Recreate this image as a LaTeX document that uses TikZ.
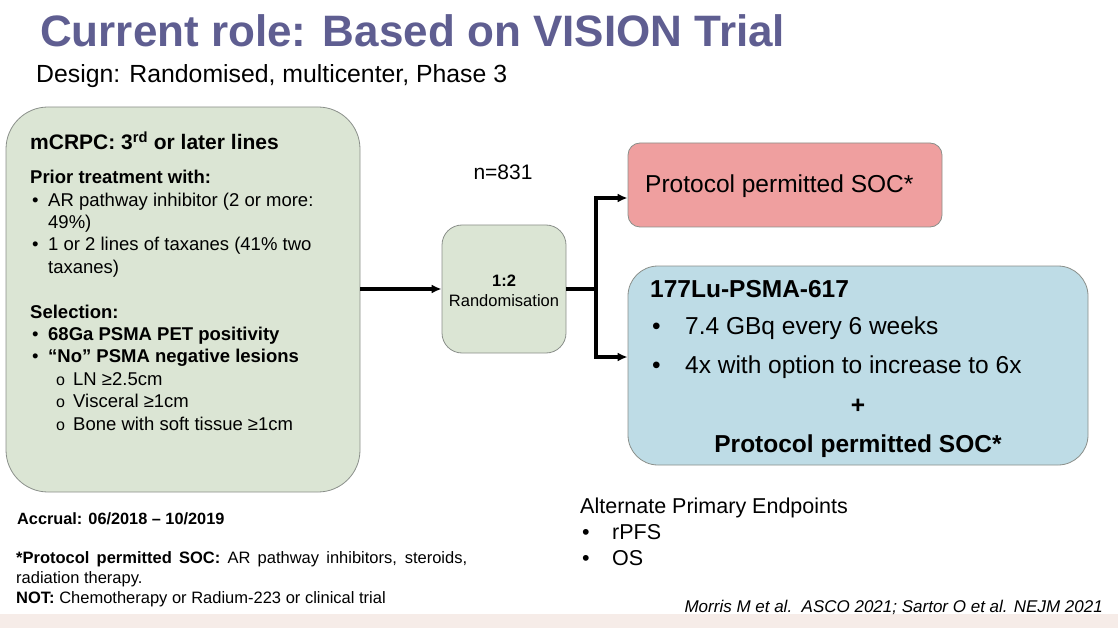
\documentclass[tikz,border=0pt]{standalone}
\usepackage{fontspec}
\setmainfont{Liberation Sans}
\usetikzlibrary{arrows.meta,positioning}
\definecolor{Heading}{HTML}{5F5E91}
\definecolor{Edge}{HTML}{8A8F8A}
\definecolor{Sage}{HTML}{DBE5D4}
\definecolor{Rose}{HTML}{EF9F9F}
\definecolor{Sky}{HTML}{BEDCE6}
\definecolor{Strip}{HTML}{F6ECE8}
\newcommand{\fs}[2]{\fontsize{#1}{#2}\selectfont}
\newcommand{\bul}{\makebox[18pt][l]{\hspace*{2pt}\textbullet}}
\newcommand{\ind}{\hspace*{18pt}}
\newcommand{\sbul}{\hspace*{26pt}\makebox[17pt][l]{\fs{16}{16}o}}
\tikzset{
  armbox/.style={draw=Edge,line width=.8pt},
  txt/.style={inner sep=0pt,text=black},
  flow/.style={-{Latex[length=10pt,width=9pt]},draw=black,line width=3.2pt},
  trunk/.style={draw=black,line width=3.2pt}
}
\begin{document}
\begin{tikzpicture}[x=1pt,y=-1pt]
  \useasboundingbox (0,0) rectangle (1118,628);
  \fill[Strip] (0,614) rectangle (1118,628);
  % heading
  \node[txt,anchor=base west,font=\fs{44}{50}\bfseries,text=Heading] (title) at (40,47) {Current role: Based on VISION Trial};
  \node[txt,anchor=base west,font=\fs{24.8}{28}] (design) at (36,83) {Design: Randomised, multicenter, Phase 3};
  % boxes
  \node[armbox,fill=Sage,minimum width=354,minimum height=385,rounded corners=42pt] (elig) at (183,299.5) {};
  \node[armbox,fill=Sage,minimum width=124,minimum height=128,rounded corners=20pt] (rand) at (504,289) {};
  \node[armbox,fill=Rose,minimum width=314,minimum height=84,rounded corners=12pt] (soc) at (785,185) {};
  \node[armbox,fill=Sky,minimum width=460,minimum height=199,rounded corners=30pt] (lu) at (858,365.5) {};
  % eligibility
  \node[txt,anchor=base west,font=\fs{21}{25}\bfseries] (mcrpc) at (30,150) {mCRPC: 3\textsuperscript{rd} or later lines};
  \node[txt,anchor=north west,align=left,font=\fs{18.5}{22.4}] (crit) at (30,170) {%
    \textbf{Prior treatment with:}\\
    \bul AR pathway inhibitor (2 or more:\\
    \ind 49\%)\\
    \bul 1 or 2 lines of taxanes (41\% two\\
    \ind taxanes)\\[22.4pt]
    \textbf{Selection:}\\
    \bul\textbf{68Ga PSMA PET positivity}\\
    \bul\textbf{“No” PSMA negative lesions}\\
    \sbul LN ≥2.5cm\\
    \sbul Visceral ≥1cm\\
    \sbul Bone with soft tissue ≥1cm};
  % randomisation
  \node[txt,anchor=base,font=\fs{21}{25}] (ncount) at (503,180) {n=831};
  \node[txt,align=center,font=\fs{16.5}{20}] (ratio) at ([yshift=-2pt]rand.center) {\textbf{1:2}\\Randomisation};
  \coordinate (fork) at (596,289);
  \draw[flow] (elig.east |- rand.west) -- (rand.west);
  \draw[trunk] (rand.east) -- (fork);
  \draw[flow] (fork) |- ([yshift=-13pt]soc.west);
  \draw[flow] (fork) |- ([yshift=8.5pt]lu.west);
  % arms
  \node[txt,anchor=base west,font=\fs{24.5}{29}] (soctxt) at (645,193) {Protocol permitted SOC*};
  \node[txt,anchor=base west,font=\fs{24.5}{29}\bfseries] (luhd) at (650,297) {177Lu-PSMA-617};
  \node[txt,anchor=base west,font=\fs{24.5}{29}] (dose) at (652,334) {\makebox[33pt][l]{\textbullet}7.4 GBq every 6 weeks};
  \node[txt,anchor=base west,font=\fs{24.5}{29}] (cycles) at (652,373) {\makebox[33pt][l]{\textbullet}4x with option to increase to 6x};
  \node[txt,font=\fs{24.5}{29}\bfseries] (plus) at (858,406) {+};
  \node[txt,anchor=base,font=\fs{24.5}{29}\bfseries] (socadd) at (858,452) {Protocol permitted SOC*};
  % notes
  \node[txt,anchor=base west,font=\fs{16.3}{20}\bfseries] (accrual) at (17,524) {Accrual: 06/2018 – 10/2019};
  \node[txt,anchor=north west,text width=451pt,align=justify,font=\fs{16.5}{20}] (foot) at (16,551) {\textbf{*Protocol permitted SOC:} AR pathway inhibitors, steroids,\linebreak radiation therapy.\\\textbf{NOT:} Chemotherapy or Radium-223 or clinical trial};
  \node[txt,anchor=base west,font=\fs{21.5}{26}] (endp) at (580,513) {Alternate Primary Endpoints};
  \node[txt,anchor=base west,font=\fs{21.5}{26}] (rpfs) at (582,539) {\makebox[30pt][l]{\textbullet}rPFS};
  \node[txt,anchor=base west,font=\fs{21.5}{26}] (os) at (582,565) {\makebox[30pt][l]{\textbullet}OS};
  \node[txt,anchor=base east,font=\fs{17}{20}\itshape] (cite) at (1103,612) {Morris M et al.\ \ ASCO 2021; Sartor O et al. NEJM 2021};
\end{tikzpicture}
\end{document}
